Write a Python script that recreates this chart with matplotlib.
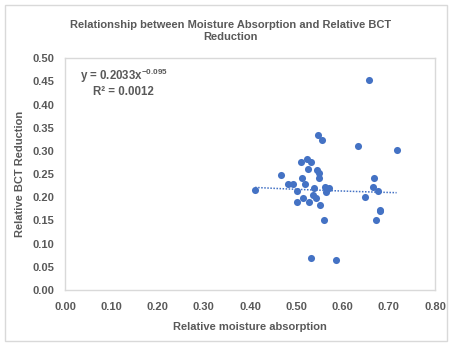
import numpy as np
import matplotlib.pyplot as plt
from matplotlib.patches import Rectangle

# relative moisture absorption vs relative BCT reduction
moisture = [0.548, 0.556, 0.633, 0.511, 0.523, 0.532, 0.525, 0.545, 0.550, 0.549,
            0.468, 0.512, 0.482, 0.494, 0.518, 0.411, 0.539, 0.562, 0.571, 0.564,
            0.502, 0.536, 0.515, 0.542, 0.502, 0.527, 0.552, 0.561, 0.657, 0.717,
            0.669, 0.665, 0.676, 0.648, 0.680, 0.680, 0.672, 0.532, 0.587]
bct_red = [0.334, 0.323, 0.310, 0.275, 0.282, 0.275, 0.261, 0.258, 0.253, 0.242,
           0.248, 0.241, 0.229, 0.229, 0.228, 0.216, 0.221, 0.222, 0.220, 0.212,
           0.213, 0.205, 0.198, 0.198, 0.190, 0.189, 0.183, 0.152, 0.453, 0.302,
           0.241, 0.222, 0.213, 0.201, 0.173, 0.170, 0.150, 0.070, 0.065]

# power trendline shown on the chart
coef_a = 0.2033
coef_b = -0.095
r2 = 0.0012

xticks = [0.0, 0.1, 0.2, 0.3, 0.4, 0.5, 0.6, 0.7, 0.8]
yticks = [0.0, 0.05, 0.1, 0.15, 0.2, 0.25, 0.3, 0.35, 0.4, 0.45, 0.5]

gray = '#595959'
blue = '#4472C4'
plt.rcParams['font.family'] = ['Liberation Sans', 'DejaVu Sans']
plt.rcParams['font.weight'] = 'bold'
plt.rcParams['mathtext.fontset'] = 'custom'
plt.rcParams['mathtext.rm'] = 'Liberation Sans:bold'
plt.rcParams['mathtext.bf'] = 'Liberation Sans:bold'
plt.rcParams['mathtext.default'] = 'bf'

fig = plt.figure(figsize=(4.52, 3.44), dpi=100)
ax = fig.add_axes([0.1438, 0.157, 0.8186, 0.674])

fig.patches.append(Rectangle((0.011, 0.008), 0.978, 0.978, transform=fig.transFigure,
                             fill=False, edgecolor='#D9D9D9', linewidth=1.0))

ax.scatter(moisture, bct_red, s=26, color=blue, zorder=3, linewidths=0)

xs = np.linspace(min(moisture), max(moisture), 100)
ax.plot(xs, coef_a * xs ** coef_b, linestyle=(0, (1, 1)), color=blue, linewidth=1.1, zorder=2)

ax.set_xlim(0, 0.8)
ax.set_ylim(0, 0.5)
ax.set_xticks(xticks)
ax.set_yticks(yticks)
ax.set_xticklabels([f'{v:.2f}' for v in xticks])
ax.set_yticklabels([f'{v:.2f}' for v in yticks])
ax.tick_params(length=0, labelsize=8, labelcolor=gray)
ax.tick_params(axis='x', pad=9)
ax.tick_params(axis='y', pad=8)
for sp in ax.spines.values():
    sp.set_color('#D9D9D9')
    sp.set_linewidth(1.0)

ax.set_xlabel('Relative moisture absorption', fontsize=8, color=gray, fontweight='bold', labelpad=7)
ax.set_ylabel('Relative BCT Reduction', fontsize=8, color=gray, fontweight='bold', labelpad=5)

fig.text(0.51, 0.91, 'Relationship between Moisture Absorption and Relative BCT\nReduction',
         ha='center', va='center', fontsize=8, color=gray, fontweight='bold', linespacing=1.25)

ax.text(0.04, 0.925, f'y = {coef_a}x$^{{{coef_b}}}$', transform=ax.transAxes, fontsize=8.3,
        color=gray, fontweight='bold', va='center')
ax.text(0.075, 0.855, f'R² = {r2}', transform=ax.transAxes, fontsize=8.3,
        color=gray, fontweight='bold', va='center')

fig.savefig('out.png', dpi=100)
